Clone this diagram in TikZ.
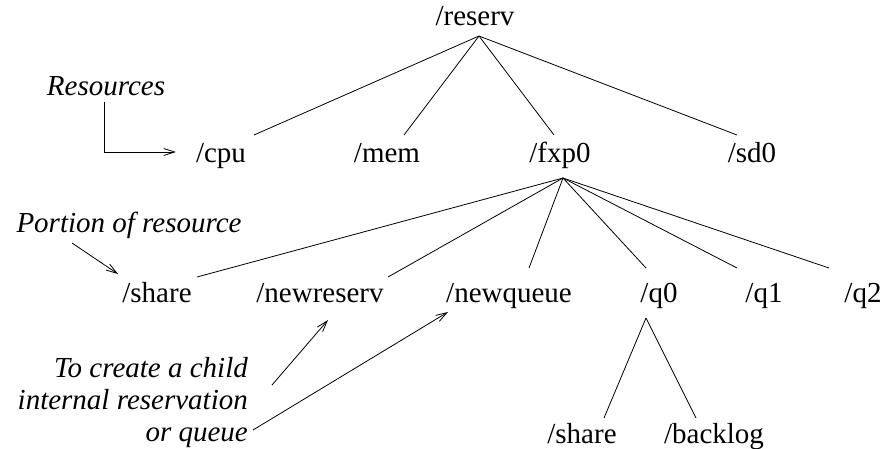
\documentclass[tikz,border=0pt]{standalone}
\usepackage{fontspec}
\setmainfont{Liberation Serif}
\usetikzlibrary{arrows.meta}
\begin{document}
\begin{tikzpicture}[x=1pt,y=-1pt,
  lbl/.style={font=\fontsize{29}{33}\selectfont, inner sep=0pt, anchor=base},
  note/.style={font=\fontsize{29}{33}\selectfont\itshape, inner sep=0pt},
  edge/.style={line width=0.8pt},
  pointer/.style={line width=0.8pt, -{Straight Barb[length=11pt,width=7pt]}}]
\useasboundingbox (0,0) rectangle (885,448);
% nodes
\node[lbl] (reserv) at (475,25) {/reserv};
\node[lbl] (cpu) at (221,162) {/cpu};
\node[lbl] (mem) at (387,162) {/mem};
\node[lbl] (fxp) at (560,162) {/fxp0};
\node[lbl] (sd) at (752,162) {/sd0};
\node[lbl] (share) at (157,302) {/share};
\node[lbl] (newreserv) at (320,302) {/newreserv};
\node[lbl] (newqueue) at (509,302) {/newqueue};
\node[lbl] (qa) at (659,302) {/q0};
\node[lbl] (qb) at (764,302) {/q1};
\node[lbl] (qc) at (863,302) {/q2};
\node[lbl] (qshare) at (582,443) {/share};
\node[lbl] (backlog) at (714,443) {/backlog};
% apex and edge end points
\coordinate (rA) at (479,36);
\coordinate (cpuT) at (254,135);
\coordinate (memT) at (404,135);
\coordinate (fxpT) at (554,135);
\coordinate (sdT) at (737,135);
\coordinate (fA) at (563,178);
\coordinate (shareT) at (197,277);
\coordinate (newreservT) at (388,277);
\coordinate (newqueueT) at (529,268);
\coordinate (qaT) at (646,268);
\coordinate (qbT) at (737,268);
\coordinate (qcT) at (829,268);
\coordinate (qA) at (646,318);
\coordinate (qshareT) at (604,418);
\coordinate (backlogT) at (696,418);
\draw[edge] (rA) -- (cpuT);
\draw[edge] (rA) -- (memT);
\draw[edge] (rA) -- (fxpT);
\draw[edge] (rA) -- (sdT);
\draw[edge] (fA) -- (shareT);
\draw[edge] (fA) -- (newreservT);
\draw[edge] (fA) -- (newqueueT);
\draw[edge] (fA) -- (qaT);
\draw[edge] (fA) -- (qbT);
\draw[edge] (fA) -- (qcT);
\draw[edge] (qA) -- (qshareT);
\draw[edge] (qA) -- (backlogT);
% annotations
\node[note, anchor=base] (res) at (106,95) {Resources};
\node[note, anchor=base] (portion) at (129,232) {Portion of resource};
\node[note, anchor=base east] (tc1) at (248,377) {To create a child};
\node[note, anchor=base east] (tc2) at (248,409) {internal reservation};
\node[note, anchor=base east] (tc3) at (248,441) {or queue};
\coordinate (resS) at (104,102);
\coordinate (resC) at (104,152);
\coordinate (resE) at (176,152);
\coordinate (porS) at (72,243);
\coordinate (porE) at (118,274);
\coordinate (a1S) at (272,385);
\coordinate (a1E) at (328,320);
\coordinate (a2S) at (253,430);
\coordinate (a2E) at (448,312);
\draw[pointer] (resS) -- (resC) -- (resE);
\draw[pointer] (porS) -- (porE);
\draw[pointer] (a1S) -- (a1E);
\draw[pointer] (a2S) -- (a2E);
\end{tikzpicture}
\end{document}
